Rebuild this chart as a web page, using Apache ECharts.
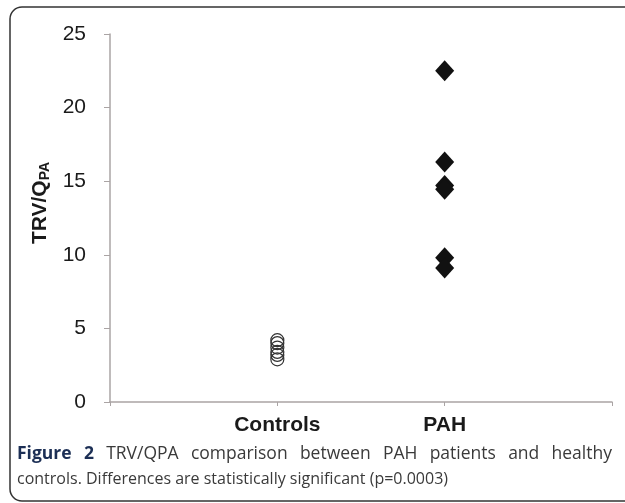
<!DOCTYPE html>
<html>
<head>
    <meta charset="UTF-8">
    <title>TRV/QPA comparison</title>
    <script src="https://cdn.jsdelivr.net/npm/echarts/dist/echarts.min.js"></script>
    <style>
        html, body { margin: 0; padding: 0; background: #fff; }
        #main { width: 625px; height: 503px; }
    </style>
</head>
<body>
    <div id="main"></div>
    <script type="text/javascript">
        // 数据
        const groupLabels = ['', 'Controls', 'PAH', ''];
        const controlsValues = [4.2, 4.0, 3.7, 3.4, 3.2, 2.9];
        const pahValues = [22.5, 16.3, 14.7, 14.45, 9.8, 9.1];
        const yTicks = [0, 5, 10, 15, 20, 25];
        const captionLine1 = ['Figure', '2', 'TRV/QPA', 'comparison', 'between', 'PAH', 'patients', 'and', 'healthy'];
        const captionLine2 = 'controls. Differences are statistically significant (p=0.0003)';

        var myChart = echarts.init(document.getElementById('main'));

        var axisGray = '#aaa4a4';
        var capFont = '17.5px "Open Sans"';
        var capBold = 'bold 17.5px "Open Sans"';

        // 第一行两端对齐
        var ctx = document.createElement('canvas').getContext('2d');
        var capLeft = 17, capRight = 612;
        var widths = captionLine1.map(function (w, i) {
            ctx.font = i < 2 ? capBold : capFont;
            return ctx.measureText(w).width;
        });
        var total = widths.reduce(function (a, b) { return a + b; }, 0);
        var gap = (capRight - capLeft - total) / (captionLine1.length - 1);
        var line1Items = [];
        var cx = capLeft;
        captionLine1.forEach(function (w, i) {
            line1Items.push({
                type: 'text',
                x: cx, y: 445,
                style: { text: w, font: i < 2 ? capBold : capFont, fill: i < 2 ? '#1c2f55' : '#3a3a3a' }
            });
            cx += widths[i] + gap;
        });

        var option = {
            backgroundColor: '#fff',
            animation: false,
            grid: { left: 110, right: 13, top: 34, bottom: 101 },
            graphic: [
                {
                    type: 'rect',
                    shape: { x: 10, y: 7, width: 640, height: 494, r: 12 },
                    style: { fill: 'none', stroke: '#333', lineWidth: 1.5 },
                    silent: true
                },
                { type: 'group', children: line1Items },
                {
                    type: 'text',
                    x: capLeft, y: 471,
                    style: { text: captionLine2, font: '16px "Open Sans"', fill: '#3a3a3a' }
                }
            ],
            xAxis: {
                type: 'value',
                min: 0,
                max: 3,
                interval: 1,
                axisLine: { lineStyle: { color: axisGray, width: 1.5 } },
                axisTick: { show: true, length: 4, lineStyle: { color: axisGray } },
                splitLine: { show: false },
                axisLabel: {
                    margin: 13,
                    fontFamily: 'Liberation Sans',
                    fontWeight: 'bold',
                    fontSize: 21,
                    color: '#1a1a1a',
                    formatter: function (v) { return groupLabels[v] || ''; }
                }
            },
            yAxis: {
                type: 'value',
                min: 0,
                max: 25,
                interval: 5,
                name: '{c|}{a|TRV/Q}{b|PA}',
                nameLocation: 'middle',
                nameGap: 47,
                nameTextStyle: {
                    rich: {
                        a: { fontFamily: 'Liberation Sans', fontWeight: 'bold', fontSize: 21, color: '#1a1a1a' },
                        b: { fontFamily: 'Liberation Sans', fontWeight: 'bold', fontSize: 14, color: '#1a1a1a', padding: [9, 0, 0, 0] },
                        c: { width: 30 }
                    }
                },
                axisLine: { show: true, lineStyle: { color: axisGray, width: 1.5 } },
                axisTick: { show: true, length: 6, lineStyle: { color: axisGray } },
                splitLine: { show: false },
                axisLabel: {
                    margin: 24,
                    fontFamily: 'Liberation Sans',
                    fontSize: 21,
                    color: '#1a1a1a',
                    formatter: function (v) { return yTicks.indexOf(v) >= 0 ? v : ''; }
                }
            },
            series: [
                {
                    name: 'Controls',
                    type: 'scatter',
                    symbol: 'circle',
                    symbolSize: 13,
                    itemStyle: { opacity: 1, color: 'rgba(255,255,255,0)', borderColor: '#333', borderWidth: 1.2 },
                    data: controlsValues.map(v => [1, v])
                },
                {
                    name: 'PAH',
                    type: 'scatter',
                    symbol: 'diamond',
                    symbolSize: [19, 21],
                    itemStyle: { opacity: 1, color: '#111' },
                    data: pahValues.map(v => [2, v])
                }
            ]
        };

        myChart.setOption(option);
    </script>
</body>
</html>
